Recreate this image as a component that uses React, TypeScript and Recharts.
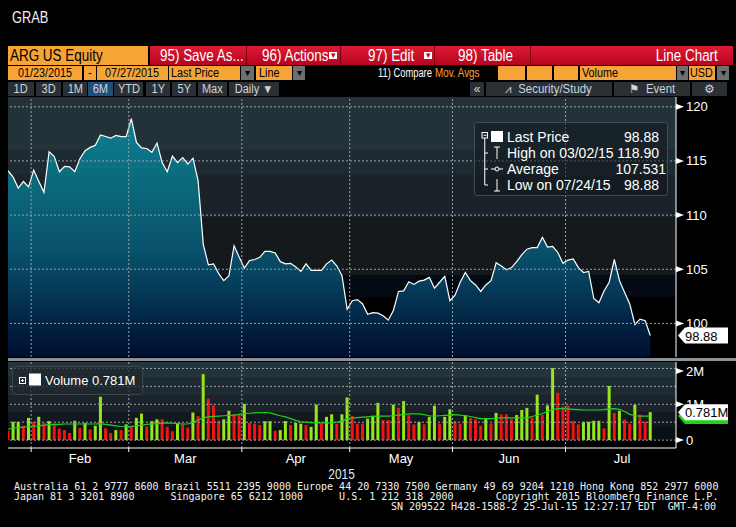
import { ComposedChart, Area, Bar, Line, Cell, XAxis, YAxis, ReferenceLine } from "recharts";

const monthNames = ["Jan", "Feb", "Mar", "Apr", "May", "Jun", "Jul"];
// trading days per month on the axis (Jan starts on the 26th, Jul counted in full)
const monthTradingDays = [5, 19, 22, 21, 20, 22, 22];

const lastPrice = [
  114.1, 113.5, 112.5, 113.1, 112.6, 114.15, 113.1, 112.1, 115.85, 115.4,
  114.0, 114.5, 114.45, 114.0, 115.2, 115.95, 116.25, 116.45, 117.4, 117.25,
  117.1, 117.35, 117.25, 117.25, 118.9, 116.7, 116.2, 116.15, 115.8, 116.65,
  114.85, 114.0, 115.45, 114.85, 115.3, 114.7, 115.25, 113.15, 107.3, 105.4,
  105.5, 104.6, 103.95, 104.4, 107.17, 106.1, 105.1, 105.8, 105.9, 106.1,
  106.65, 106.65, 106.5, 105.7, 105.5, 105.55, 105.2, 104.8, 105.5, 104.9,
  104.9, 104.9, 105.5, 105.85, 105.3, 104.4, 101.3, 102.1, 102.2, 101.8,
  100.85, 101.0, 100.95, 100.7, 100.3, 101.2, 102.95, 103.0, 103.85, 103.6,
  103.9, 104.0, 104.25, 103.25, 103.8, 104.35, 102.1, 102.6, 103.8, 104.7,
  103.95, 103.55, 102.95, 103.55, 103.95, 105.6, 105.3, 104.95, 105.15, 105.7,
  106.35, 106.85, 107.0, 107.0, 107.95, 107.05, 107.1, 106.55, 105.55, 105.85,
  105.95, 105.15, 104.7, 104.8, 102.3, 101.9, 103.0, 103.8, 105.9, 103.95,
  102.85, 101.8, 99.9, 100.4, 100.25, 98.88,
];

// volume in millions of shares
const volume = [
  0.26, 0.51, 0.51, 0.4, 0.62, 0.51, 0.65, 0.48, 0.53, 0.46,
  0.32, 0.28, 0.2, 0.54, 0.34, 0.48, 0.3, 0.4, 1.21, 0.33,
  0.2, 0.28, 0.28, 0.44, 0.4, 0.62, 0.74, 0.38, 0.53, 0.58,
  0.58, 0.37, 0.25, 0.48, 0.44, 0.35, 0.77, 0.67, 1.84, 1.16,
  0.97, 0.54, 0.58, 0.82, 0.73, 0.71, 1.01, 0.48, 0.46, 0.42,
  0.53, 0.53, 0.26, 0.28, 0.53, 0.42, 0.48, 0.46, 0.42, 0.37,
  0.99, 0.46, 0.65, 0.72, 0.46, 0.72, 1.19, 0.68, 0.46, 0.46,
  0.6, 0.68, 1.04, 0.56, 0.56, 0.99, 0.9, 1.09, 0.7, 0.44,
  0.51, 0.44, 0.65, 0.96, 0.46, 0.65, 0.86, 0.53, 0.46, 0.7,
  0.62, 0.58, 0.4, 0.62, 0.46, 0.76, 0.72, 0.72, 0.58, 0.7,
  0.84, 0.9, 0.63, 1.27, 0.7, 0.97, 2.01, 1.32, 0.93, 0.97,
  0.53, 0.44, 0.51, 0.51, 0.54, 0.54, 0.33, 1.51, 0.76, 0.82,
  0.58, 0.46, 0.99, 0.71, 0.51, 0.781,
];

// 1 = green (up) bar, 0 = red (down) bar
const volumeUp = [
  0, 1, 1, 0, 1, 0, 1, 0, 1, 0,
  0, 0, 0, 1, 0, 1, 0, 1, 1, 0,
  0, 1, 0, 1, 0, 1, 1, 0, 1, 1,
  0, 0, 0, 1, 0, 0, 1, 0, 1, 0,
  0, 0, 1, 1, 0, 0, 1, 0, 0, 0,
  1, 1, 0, 1, 1, 0, 1, 1, 0, 1,
  1, 0, 1, 1, 0, 1, 1, 0, 0, 0,
  1, 1, 1, 0, 0, 1, 0, 1, 0, 0,
  1, 0, 1, 1, 0, 1, 1, 0, 0, 1,
  0, 0, 0, 1, 0, 1, 0, 0, 0, 1,
  1, 1, 0, 1, 0, 1, 1, 0, 0, 0,
  0, 0, 1, 1, 1, 1, 0, 1, 0, 1,
  0, 0, 1, 0, 0, 1,
];

// volume moving average (millions)
const volumeAvg = [
  0.31, 0.33, 0.35, 0.36, 0.38, 0.39, 0.4, 0.42, 0.43, 0.44,
  0.44, 0.45, 0.45, 0.45, 0.45, 0.45, 0.45, 0.45, 0.46, 0.44,
  0.42, 0.4, 0.38, 0.37, 0.38, 0.4, 0.42, 0.44, 0.45, 0.46,
  0.47, 0.48, 0.47, 0.46, 0.45, 0.45, 0.5, 0.56, 0.62, 0.65,
  0.66, 0.67, 0.68, 0.69, 0.7, 0.72, 0.74, 0.75, 0.76, 0.77,
  0.77, 0.76, 0.72, 0.68, 0.65, 0.6, 0.55, 0.51, 0.5, 0.49,
  0.48, 0.48, 0.48, 0.48, 0.5, 0.53, 0.6, 0.62, 0.63, 0.64,
  0.65, 0.66, 0.67, 0.67, 0.67, 0.68, 0.7, 0.72, 0.73, 0.73,
  0.73, 0.71, 0.68, 0.67, 0.68, 0.69, 0.7, 0.71, 0.7, 0.68,
  0.66, 0.63, 0.6, 0.6, 0.6, 0.61, 0.62, 0.62, 0.62, 0.62,
  0.62, 0.62, 0.66, 0.7, 0.74, 0.8, 0.85, 0.88, 0.88, 0.87,
  0.86, 0.85, 0.84, 0.84, 0.84, 0.84, 0.85, 0.87, 0.88, 0.86,
  0.8, 0.72, 0.68, 0.67, 0.67, 0.67,
];

const priceTicks = [100, 105, 110, 115, 120];
const priceMinorTicks = [97.5, 102.5, 107.5, 112.5, 117.5];
const volumeTicks = [0, 0.5, 1, 1.5, 2];

const footerLines = [
  "Australia 61 2 9777 8600 Brazil 5511 2395 9000 Europe 44 20 7330 7500 Germany 49 69 9204 1210 Hong Kong 852 2977 6000",
  "Japan 81 3 3201 8900      Singapore 65 6212 1000      U.S. 1 212 318 2000       Copyright 2015 Bloomberg Finance L.P.",
  "SN 209522 H428-1588-2 25-Jul-15 12:27:17 EDT  GMT-4:00",
];

const monthEdges: number[] = [];
const monthMids: number[] = [];
const midNames: Record<string, string> = {};
let acc = 0;
monthTradingDays.forEach((d, k) => {
  if (k > 0) {
    monthEdges.push(acc - 0.5);
    monthMids.push(acc - 0.5 + d / 2);
    midNames[String(acc - 0.5 + d / 2)] = monthNames[k];
  }
  acc += d;
});

const priceData = lastPrice.map((p, i) => ({ i, p }));
const volData = volume.map((v, i) => ({ i, v, ma: volumeAvg[i], up: volumeUp[i] }));

const X_DOMAIN = [0, 130];
const PRICE_DOMAIN = [96.9, 120.9];
const VOL_DOMAIN = [-0.22, 2.18];
const SANS = '"Liberation Sans", Arial, sans-serif';
const GRID = "#9aa2a8";

const AxisTick = (props: any) => {
  const { x, y, payload, fmt } = props;
  const label = fmt(payload.value);
  if (label === null) return <line x1={x} y1={y} x2={x + 4} y2={y} stroke="#fff" />;
  return (
    <g>
      <polygon points={`${x},${y - 3} ${x + 8},${y} ${x},${y + 3}`} fill="#fff" />
      <text x={x + 10} y={y + 4.5} fill="#fff" fontSize={13} fontFamily={SANS}>
        {label}
      </text>
    </g>
  );
};

const ValueTag = (props: any) => {
  const { viewBox, text, bg, color } = props;
  if (!viewBox) return null;
  const x0 = viewBox.x + viewBox.width + 2;
  const y = viewBox.y;
  return (
    <g>
      <polygon
        points={`${x0},${y} ${x0 + 7},${y - 8} ${x0 + 50},${y - 8} ${x0 + 50},${y + 8} ${x0 + 7},${y + 8}`}
        fill={bg}
      />
      {text && (
        <text x={x0 + 7} y={y + 5} fill={color} fontSize={13} fontFamily={SANS}>
          {text}
        </text>
      )}
    </g>
  );
};

const priceBands =
  "linear-gradient(to bottom, #233239 0px, #233239 53px, #1e2a31 53px, #1e2a31 78px, #1a2329 78px, #1a2329 120px, #14191c 120px, #14191c 178px, #040a14 178px, #040a14 200px, #000 200px)";
const volBands =
  "linear-gradient(to bottom, #24343c 0px, #24343c 15px, #1f2c33 15px, #1f2c33 33px, #1a242a 33px, #1a242a 50px, #12191e 50px, #12191e 65px, #0b1014 65px, #0b1014 78px, #000 78px)";

// a flat box with condensed text (no narrow font installed, so squeeze it)
const Box = ({ x, y, w, h, bg, color, text, size, align, pad, sx }: any) => {
  const a = align || "center";
  return (
    <div
      style={{
        position: "absolute",
        left: x,
        top: y,
        width: w,
        height: h,
        background: bg,
        color,
        fontFamily: SANS,
        fontSize: size,
        lineHeight: `${h}px`,
        textAlign: a,
        paddingLeft: pad || 0,
        boxSizing: "border-box",
        whiteSpace: "pre",
        overflow: "visible",
      }}
    >
      {text && (
        <span
          style={{
            display: "inline-block",
            transform: `scaleX(${sx || 0.84})`,
            transformOrigin: a === "left" ? "left center" : a === "right" ? "right center" : "center",
          }}
        >
          {text}
        </span>
      )}
    </div>
  );
};

const ORANGE = "#f7a437";
const GREY = "#6d6e70";
const DARKBTN = "#2b3035";

const Toolbar = () => (
  <>
    <Box x={8} y={46} w={140} h={19} bg={ORANGE} color="#000" text="ARG US Equity" size={16} align="left" pad={2} />
    <div
      style={{
        position: "absolute",
        left: 150,
        top: 46,
        width: 583,
        height: 19,
        background: "linear-gradient(#dc1b33, #b80320)",
      }}
    />
    {[246, 340, 434, 530].map((x) => (
      <div key={x} style={{ position: "absolute", left: x, top: 46, width: 1, height: 19, background: "#7a0012" }} />
    ))}
    <Box x={160} y={46} w={86} h={19} color="#fff" text="95) Save As..." size={16} align="left" />
    <Box x={262} y={46} w={66} h={19} color="#fff" text="96) Actions" size={16} align="left" />
    <Box x={329} y={52} w={8} h={7} bg="#fff" color="#b80320" text="▾" size={9} sx={1} />
    <Box x={368} y={46} w={50} h={19} color="#fff" text="97) Edit" size={16} align="left" />
    <Box x={424} y={52} w={8} h={7} bg="#fff" color="#b80320" text="▾" size={9} sx={1} />
    <Box x={458} y={46} w={60} h={19} color="#fff" text="98) Table" size={16} align="left" />
    <Box x={600} y={46} w={118} h={19} color="#fff" text="Line Chart" size={16} align="right" />

    <Box x={8} y={66} w={74} h={14} bg={ORANGE} color="#000" text="01/23/2015" size={12} sx={0.9} />
    <Box x={84} y={66} w={12} h={14} bg={ORANGE} color="#000" text="-" size={12} />
    <Box x={97} y={66} w={71} h={14} bg={ORANGE} color="#000" text="07/27/2015" size={12} sx={0.9} />
    <Box x={169} y={66} w={71} h={14} bg={ORANGE} color="#000" text="Last Price" size={12} align="left" pad={2} sx={0.9} />
    <Box x={241} y={66} w={13} h={14} bg={GREY} color="#000" text="▾" size={10} sx={1} />
    <Box x={256} y={66} w={36} h={14} bg={ORANGE} color="#000" text="Line" size={12} align="left" pad={3} sx={0.9} />
    <Box x={293} y={66} w={12} h={14} bg={GREY} color="#000" text="▾" size={10} sx={1} />
    <Box x={378} y={66} w={54} h={14} color="#fff" text="11) Compare" size={12} align="left" sx={0.78} />
    <Box x={435} y={66} w={54} h={14} color={ORANGE} text="Mov. Avgs" size={12} align="left" sx={0.82} />
    <Box x={498} y={66} w={27} h={14} bg={ORANGE} />
    <Box x={527} y={66} w={25} h={14} bg={ORANGE} />
    <Box x={554} y={66} w={24} h={14} bg={ORANGE} />
    <Box x={580} y={66} w={96} h={14} bg={ORANGE} color="#000" text="Volume" size={12} align="left" pad={2} sx={0.9} />
    <Box x={677} y={66} w={11} h={14} bg={GREY} color="#000" text="▾" size={10} sx={1} />
    <Box x={689} y={66} w={26} h={14} bg={ORANGE} color="#000" text="USD" size={12} align="left" pad={1} sx={0.9} />
    <Box x={717} y={66} w={12} h={14} bg={GREY} color="#000" text="▾" size={10} sx={1} />

    {[
      [8, 26, "1D"],
      [36, 25, "3D"],
      [63, 24, "1M"],
      [88, 25, "6M"],
      [114, 29, "YTD"],
      [146, 24, "1Y"],
      [172, 24, "5Y"],
      [198, 29, "Max"],
      [229, 50, "Daily ▼"],
    ].map(([x, w, t]) => (
      <Box
        key={t as string}
        x={x}
        y={82}
        w={w}
        h={14}
        bg={t === "6M" ? "#1f4e7c" : DARKBTN}
        color="#cfd5da"
        text={t}
        size={12}
        sx={0.92}
      />
    ))}
    <Box x={470} y={82} w={14} h={14} bg={DARKBTN} color="#cfd5da" text="«" size={12} sx={1} />
    <Box x={486} y={82} w={126} h={14} bg={DARKBTN} color="#cfd5da" text="⩘  Security/Study" size={12} sx={0.95} />
    <Box x={614} y={82} w={76} h={14} bg={DARKBTN} color="#cfd5da" text="⚑  Event" size={12} sx={0.95} />
    <Box x={692} y={82} w={35} h={14} bg={DARKBTN} color="#cfd5da" text="⚙" size={12} sx={1} />
  </>
);

const PriceLegend = () => (
  <div
    style={{
      position: "absolute",
      left: 474,
      top: 122,
      width: 194,
      height: 74,
      background: "rgba(16,24,29,0.55)",
      border: "1px solid #414c52",
      borderRadius: 3,
      boxSizing: "border-box",
    }}
  >
    <svg width={194} height={74} style={{ position: "absolute", left: -1, top: -1 }}>
      <rect x={8} y={10.5} width={5.5} height={5.5} fill="none" stroke="#fff" />
      <line x1={9.5} x2={12.5} y1={13.25} y2={13.25} stroke="#fff" />
      <line x1={10.75} x2={10.75} y1={16} y2={63} stroke="#fff" />
      <line x1={10.75} x2={14} y1={31} y2={31} stroke="#fff" />
      <line x1={10.75} x2={14} y1={47} y2={47} stroke="#fff" />
      <line x1={10.75} x2={14} y1={63} y2={63} stroke="#fff" />
      <rect x={17} y={9} width={12} height={11} fill="#fff" />
      <line x1={20} x2={26} y1={25} y2={25} stroke="#fff" />
      <line x1={23} x2={23} y1={25} y2={37} stroke="#fff" />
      <line x1={17} x2={29} y1={47} y2={47} stroke="#fff" />
      <circle cx={23} cy={47} r={2} fill="#1a252b" stroke="#fff" />
      <line x1={23} x2={23} y1={57} y2={69} stroke="#fff" />
      <line x1={20} x2={26} y1={69} y2={69} stroke="#fff" />
      <g fill="#fff" fontFamily={SANS} fontSize={14}>
        <text x={33} y={20}>Last Price</text>
        <text x={33} y={36}>High on 03/02/15</text>
        <text x={33} y={52}>Average</text>
        <text x={33} y={68}>Low on 07/24/15</text>
        <text x={185} y={20} textAnchor="end">98.88</text>
        <text x={185} y={36} textAnchor="end">118.90</text>
        <text x={192} y={52} textAnchor="end">107.531</text>
        <text x={185} y={68} textAnchor="end">98.88</text>
      </g>
    </svg>
  </div>
);

const VolumeLegend = () => (
  <div
    style={{
      position: "absolute",
      left: 12,
      top: 366,
      width: 131,
      height: 29,
      background: "rgba(30,40,46,0.75)",
      border: "1px solid #3c474c",
      borderRadius: 4,
      boxSizing: "border-box",
    }}
  >
    <svg width={131} height={29} style={{ position: "absolute", left: -1, top: -1 }}>
      <rect x={7.5} y={11.5} width={6} height={6} fill="none" stroke="#fff" />
      <line x1={9} x2={12} y1={14.5} y2={14.5} stroke="#fff" />
      <line x1={10.5} x2={10.5} y1={13} y2={16} stroke="#fff" />
      <rect x={17} y={7.5} width={12} height={12} fill="#fff" />
      <text x={33} y={19} fill="#fff" fontFamily={SANS} fontSize={13}>
        Volume 0.781M
      </text>
    </svg>
  </div>
);

export default function App() {
  const priceFmt = (v: number) => (v % 5 === 0 ? String(v) : null);
  const volFmt = (v: number) => (v === 0 ? "0" : `${v}M`);
  const noMargin = { top: 0, right: 0, bottom: 0, left: 0 };
  return (
    <div
      style={{
        position: "absolute",
        left: 0,
        top: 0,
        width: 736,
        height: 527,
        background: "#000",
        overflow: "hidden",
        fontFamily: SANS,
      }}
    >
      <Box x={12} y={8} w={60} h={20} color="#f0f0f0" text="GRAB" size={16} align="left" sx={0.8} />
      <Toolbar />

      {/* price panel */}
      <div style={{ position: "absolute", left: 8, top: 97, width: 668, height: 260, background: priceBands }} />
      <div style={{ position: "absolute", left: 8, top: 97 }}>
        <ComposedChart width={728} height={260} data={priceData} margin={noMargin}>
          <defs>
            <linearGradient id="priceFill" gradientUnits="userSpaceOnUse" x1="0" y1="0" x2="0" y2="260">
              <stop offset="0.06" stopColor="#10818f" />
              <stop offset="0.2" stopColor="#0c7587" />
              <stop offset="0.38" stopColor="#0b6578" />
              <stop offset="0.57" stopColor="#09546d" />
              <stop offset="0.7" stopColor="#06415e" />
              <stop offset="0.82" stopColor="#032c4b" />
              <stop offset="0.92" stopColor="#011b3c" />
              <stop offset="1" stopColor="#000f30" />
            </linearGradient>
          </defs>
          <XAxis dataKey="i" type="number" domain={X_DOMAIN} hide />
          <YAxis
            orientation="right"
            width={60}
            domain={PRICE_DOMAIN}
            allowDataOverflow
            ticks={[...priceMinorTicks, ...priceTicks]}
            tickSize={0}
            tickMargin={0}
            tickLine={false}
            axisLine={{ stroke: "#fff" }}
            tick={(p: any) => <AxisTick {...p} fmt={priceFmt} />}
          />
          <Area
            dataKey="p"
            type="linear"
            stroke="#ffffff"
            strokeWidth={1.2}
            fill="url(#priceFill)"
            fillOpacity={1}
            dot={false}
            activeDot={false}
            isAnimationActive={false}
          />
          {priceTicks.map((v) => (
            <ReferenceLine key={v} y={v} stroke={GRID} strokeDasharray="2 2" />
          ))}
          {monthEdges.map((v) => (
            <ReferenceLine key={v} x={v} stroke={GRID} strokeDasharray="2 2" />
          ))}
        </ComposedChart>
      </div>
      {/* overlay with the last-value tag so it sits above the axis labels */}
      <div style={{ position: "absolute", left: 8, top: 97 }}>
        <ComposedChart width={728} height={260} data={priceData} margin={noMargin}>
          <XAxis dataKey="i" type="number" domain={X_DOMAIN} hide />
          <YAxis orientation="right" width={60} domain={PRICE_DOMAIN} allowDataOverflow tick={false} axisLine={false} tickLine={false} />
          <ReferenceLine
            y={lastPrice[lastPrice.length - 1]}
            stroke="none"
            label={<ValueTag text="98.88" bg="#fff" color="#000" />}
          />
        </ComposedChart>
      </div>
      <PriceLegend />
      <div style={{ position: "absolute", left: 8, top: 358, width: 728, height: 3, background: "#8d9093" }} />

      {/* volume panel */}
      <div style={{ position: "absolute", left: 8, top: 362, width: 668, height: 86, background: volBands }} />
      <div style={{ position: "absolute", left: 8, top: 362 }}>
        <ComposedChart width={728} height={110} data={volData} margin={noMargin}>
          <XAxis
            dataKey="i"
            type="number"
            domain={X_DOMAIN}
            ticks={monthEdges}
            height={4}
            tickSize={4}
            tickLine={{ stroke: "#fff" }}
            axisLine={{ stroke: "#fff" }}
            tick={() => <g />}
          />
          <XAxis
            xAxisId="months"
            dataKey="i"
            type="number"
            domain={X_DOMAIN}
            ticks={monthMids}
            height={20}
            tickSize={0}
            tickMargin={1.5}
            axisLine={false}
            tickLine={false}
            tickFormatter={(v: number) => midNames[String(v)] || ""}
            tick={{ fill: "#fff", fontSize: 13, fontFamily: SANS }}
          />
          <YAxis
            orientation="right"
            width={60}
            domain={VOL_DOMAIN}
            allowDataOverflow
            ticks={volumeTicks}
            tickSize={0}
            tickMargin={0}
            tickLine={false}
            axisLine={{ stroke: "#fff" }}
            tick={(p: any) => <AxisTick {...p} fmt={volFmt} />}
          />
          {volumeTicks.map((v) => (
            <ReferenceLine key={v} y={v} stroke={GRID} strokeDasharray="2 2" />
          ))}
          {monthEdges.map((v) => (
            <ReferenceLine key={v} x={v} stroke={GRID} strokeDasharray="2 2" />
          ))}
          <Bar dataKey="v" barSize={3} isAnimationActive={false}>
            {volData.map((d) => (
              <Cell key={d.i} fill={d.up ? "#96e61a" : "#f01414"} />
            ))}
          </Bar>
          <Line
            dataKey="ma"
            type="linear"
            stroke="#1fcf1f"
            strokeWidth={1.2}
            dot={false}
            activeDot={false}
            isAnimationActive={false}
          />
        </ComposedChart>
      </div>
      <div style={{ position: "absolute", left: 8, top: 362 }}>
        <ComposedChart width={728} height={110} data={volData} margin={noMargin}>
          <XAxis dataKey="i" type="number" domain={X_DOMAIN} height={24} tick={false} axisLine={false} tickLine={false} />
          <YAxis orientation="right" width={60} domain={VOL_DOMAIN} allowDataOverflow tick={false} axisLine={false} tickLine={false} />
          <ReferenceLine
            y={volumeAvg[volumeAvg.length - 1]}
            stroke="none"
            label={<ValueTag text="" bg="#19d419" color="#000" />}
          />
          <ReferenceLine
            y={volume[volume.length - 1]}
            stroke="none"
            label={<ValueTag text="0.781M" bg="#fff" color="#000" />}
          />
        </ComposedChart>
      </div>
      <VolumeLegend />

      <Box x={0} y={466} w={684} h={16} color="#dfe6f5" text="2015" size={14} sx={0.85} />
      {footerLines.map((t, k) => (
        <div
          key={k}
          style={{
            position: "absolute",
            left: 14,
            top: 482 + k * 10,
            width: 702,
            height: 10,
            lineHeight: "10px",
            textAlign: k === 2 ? "right" : "left",
            whiteSpace: "pre",
            color: "#f2f2f2",
            fontFamily: '"DejaVu Sans Mono", "Liberation Mono", monospace',
            fontSize: 10,
          }}
        >
          {t}
        </div>
      ))}
    </div>
  );
}
